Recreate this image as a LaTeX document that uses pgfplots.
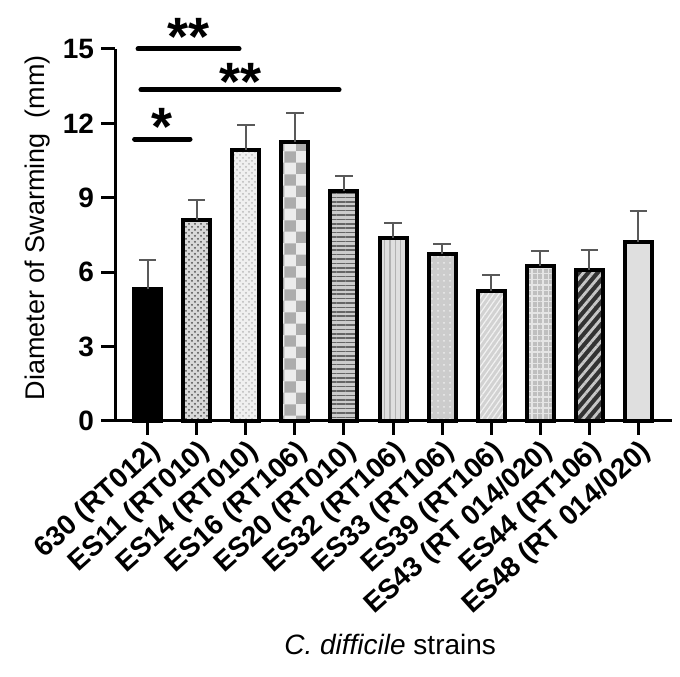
\documentclass[border=0pt]{standalone}
\usepackage{fontspec}
\setmainfont{Liberation Sans}
\usepackage{pgfplots}
\pgfplotsset{compat=1.18}
\usetikzlibrary{patterns, patterns.meta}

% one bar per strain, all at the same shift, GraphPad-like upper error bar
\pgfplotsset{
  strainbar/.style={
    ybar, bar width=13.5pt, bar shift=0pt,
    draw=black, line width=2pt,
    error bars/y dir=plus, error bars/y explicit,
    error bars/error bar style={line width=1pt, draw=black!65},
    error bars/error mark options={rotate=90, mark size=4.3pt, line width=1pt, draw=black!65}
  }
}

\begin{document}
\begin{tikzpicture}
\begin{axis}[
  scale only axis,
  width=278.5pt, height=186pt,
  xmin=-0.67, xmax=10.69,
  ymin=0, ymax=15,
  ytick={0,3,6,9,12,15},
  xtick={0,1,2,3,4,5,6,7,8,9,10},
  xticklabels={630 (RT012), ES11 (RT010), ES14 (RT010), ES16 (RT106), ES20 (RT010),
    ES32 (RT106), ES33 (RT106), ES39 (RT106), ES43 (RT 014/020), ES44 (RT106), ES48 (RT 014/020)},
  axis lines=left,
  axis line style={line width=1.5pt, -},
  tick style={line width=1.5pt, black},
  major tick length=7pt,
  tick align=outside,
  /pgf/number format/assume math mode=true,
  tick label style={font=\fontsize{14}{16}\selectfont\bfseries},
  xticklabel style={rotate=42, anchor=north east, inner sep=1pt},
  ylabel={Diameter of Swarming \ (mm)},
  ylabel style={font=\fontsize{13.5}{15}\selectfont, at={(axis description cs:-0.14,0.519)}, anchor=center},
  xlabel={\textit{C. difficile} strains},
  xlabel style={font=\fontsize{14}{16}\selectfont, at={(axis description cs:0.494,-0.60)}, anchor=center},
  clip=false,
]
% 630 (RT012)
\addplot[strainbar, fill=black] coordinates {(0,5.31) +- (0,1.17)};
% ES11
\addplot[strainbar, preaction={fill=gray!30}, pattern=crosshatch dots, pattern color=black!70] coordinates {(1,8.10) +- (0,0.80)};
% ES14
\addplot[strainbar, preaction={fill=gray!12}, pattern=crosshatch dots, pattern color=gray!55] coordinates {(2,10.92) +- (0,1.03)};
% ES16
\addplot[strainbar, preaction={fill=gray!15}, pattern=checkerboard, pattern color=gray!65] coordinates {(3,11.24) +- (0,1.17)};
% ES20
\addplot[strainbar, preaction={fill=gray!40}, pattern={Lines[angle=0, distance=2.2pt, line width=0.8pt]}, pattern color=black!60] coordinates {(4,9.26) +- (0,0.61)};
% ES32
\addplot[strainbar, preaction={fill=gray!25}, pattern={Lines[angle=90, distance=2.6pt, line width=0.6pt]}, pattern color=gray!60] coordinates {(5,7.37) +- (0,0.60)};
% ES33
\addplot[strainbar, preaction={fill=gray!40}, pattern=dots, pattern color=gray!15] coordinates {(6,6.72) +- (0,0.41)};
% ES39
\addplot[strainbar, preaction={fill=gray!35}, pattern={Lines[angle=55, distance=2.2pt, line width=0.6pt]}, pattern color=gray!10] coordinates {(7,5.23) +- (0,0.65)};
% ES43
\addplot[strainbar, preaction={fill=gray!50}, pattern={Hatch[angle=0, distance=2.8pt, line width=0.7pt]}, pattern color=gray!20] coordinates {(8,6.24) +- (0,0.61)};
% ES44
\addplot[strainbar, preaction={fill=black!80}, pattern={Lines[angle=50, distance=3.6pt, line width=1.4pt]}, pattern color=gray!45] coordinates {(9,6.08) +- (0,0.81)};
% ES48
\addplot[strainbar, fill=gray!25] coordinates {(10,7.21) +- (0,1.24)};

% significance brackets
\draw[line width=2.5pt, line cap=round] (axis cs:-0.20,15) -- (axis cs:1.86,15);
\draw[line width=2.5pt, line cap=round] (axis cs:-0.14,13.35) -- (axis cs:3.90,13.35);
\draw[line width=2.5pt, line cap=round] (axis cs:-0.27,11.37) -- (axis cs:0.86,11.37);
\node[font=\fontsize{27}{27}\selectfont\bfseries, anchor=center, yshift=-6pt] at (axis cs:0.82,15.97) {**};
\node[font=\fontsize{27}{27}\selectfont\bfseries, anchor=center, yshift=-6pt] at (axis cs:1.88,14.15) {**};
\node[font=\fontsize{27}{27}\selectfont\bfseries, anchor=center, yshift=-6pt] at (axis cs:0.29,12.34) {*};

% page frame matching the reference margins
\path (axis description cs:-0.2065,-0.688) rectangle (axis description cs:1.0144,1.1317);
\end{axis}
\end{tikzpicture}
\end{document}
